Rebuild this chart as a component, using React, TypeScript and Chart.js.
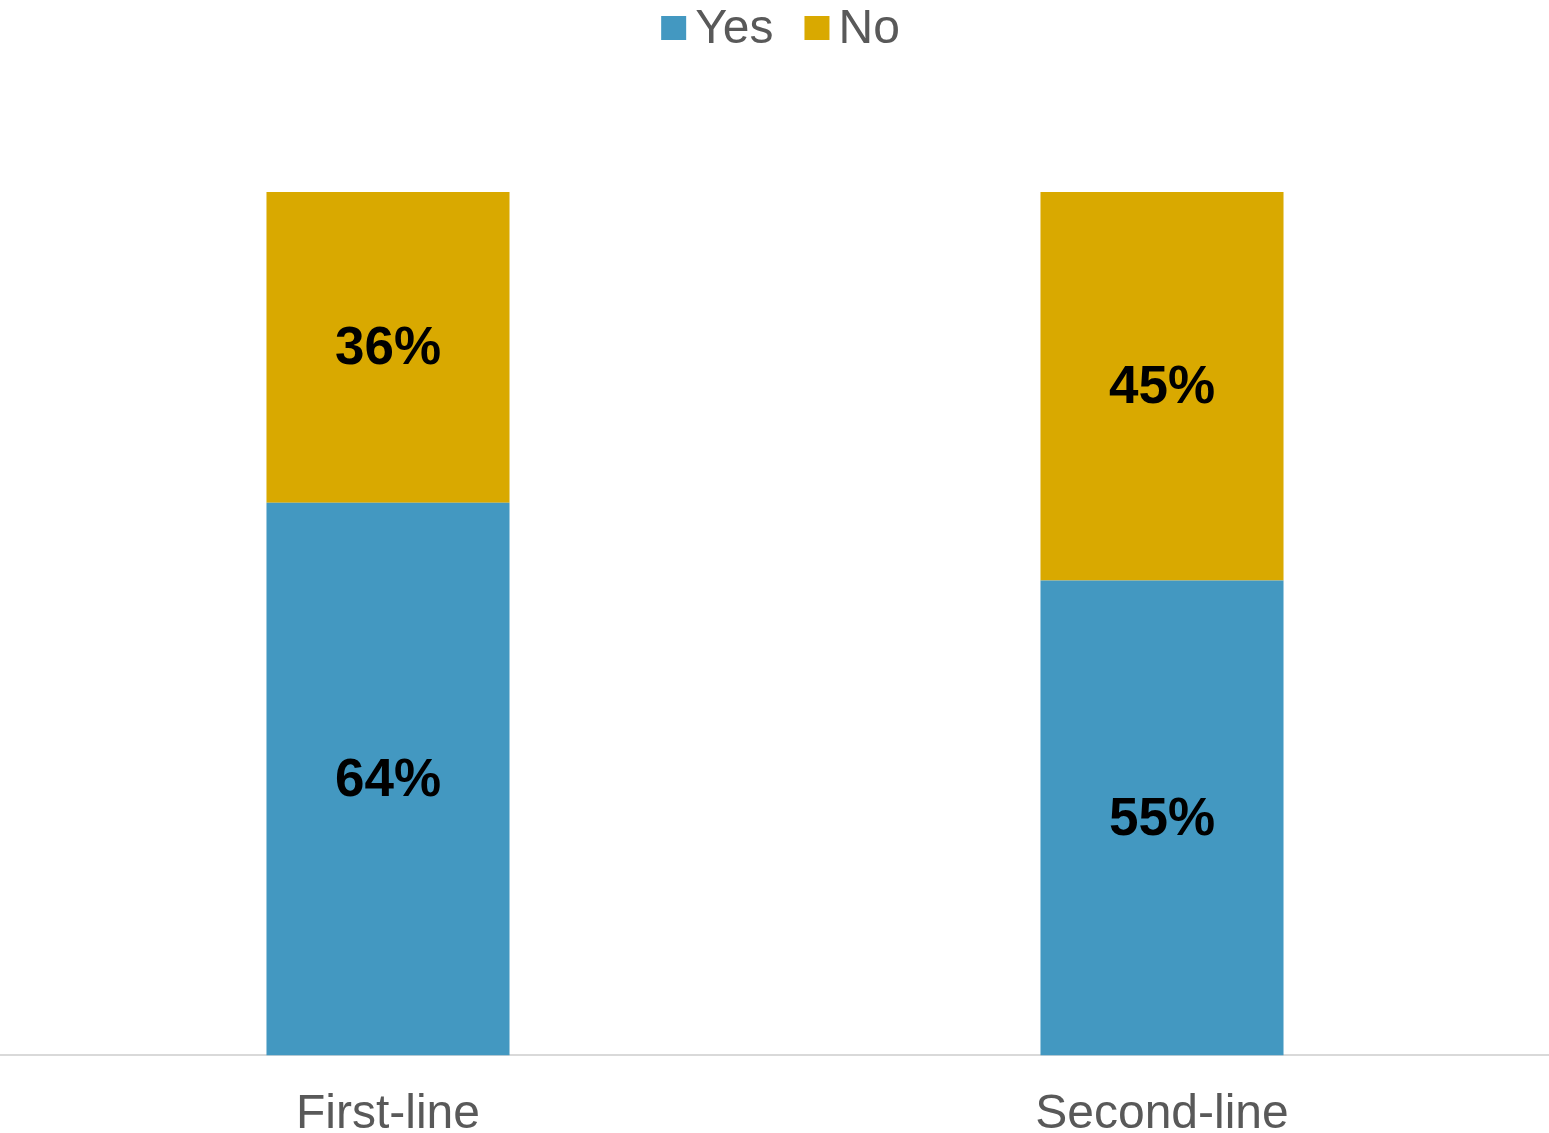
import React, { useEffect, useRef } from "react";
import { Chart, registerables } from "chart.js";

Chart.register(...registerables);

const categories: string[] = ["First-line", "Second-line"];
const yesValues: number[] = [64, 55];
const noValues: number[] = [36, 45];
const seriesLabels: string[] = ["Yes", "No"];
const seriesColors: string[] = ["#4398C1", "#D9A900"];

const FONT = "'Liberation Sans', Arial, sans-serif";
const TEXT_GRAY = "#595959";

const dataLabelPlugin = {
  id: "segmentLabels",
  afterDatasetsDraw(chart: any) {
    const ctx = chart.ctx;
    ctx.save();
    ctx.font = `bold 53px ${FONT}`;
    ctx.fillStyle = "#000000";
    ctx.textAlign = "center";
    ctx.textBaseline = "middle";
    chart.data.datasets.forEach((ds: any, di: number) => {
      const meta = chart.getDatasetMeta(di);
      meta.data.forEach((bar: any, i: number) => {
        const v = ds.data[i];
        const cy = (bar.y + bar.base) / 2;
        ctx.fillText(`${v}%`, bar.x, cy + 2);
      });
    });
    ctx.restore();
  },
};

const legendPlugin = {
  id: "topLegend",
  afterDraw(chart: any) {
    const ctx = chart.ctx;
    ctx.save();
    ctx.font = `48px ${FONT}`;
    ctx.textBaseline = "middle";
    ctx.textAlign = "left";
    const box = 25;
    const gapBoxText = 9;
    const gapItems = 31;
    const items = chart.data.datasets.map((ds: any) => ({
      label: ds.label,
      color: ds.backgroundColor,
      w: ctx.measureText(ds.label).width,
    }));
    const total =
      items.reduce((s: number, it: any) => s + box + gapBoxText + it.w, 0) +
      gapItems * (items.length - 1);
    let x = (chart.width - total) / 2 + 6;
    const cy = 28;
    items.forEach((it: any) => {
      ctx.fillStyle = it.color;
      ctx.fillRect(x, cy - 12, box, 24);
      x += box + gapBoxText;
      ctx.fillStyle = TEXT_GRAY;
      ctx.fillText(it.label, x, cy + 2);
      x += it.w + gapItems;
    });
    ctx.restore();
  },
};

export default function App() {
  const canvasRef = useRef<HTMLCanvasElement | null>(null);

  useEffect(() => {
    document.body.style.margin = "0";
    const canvas = canvasRef.current;
    if (!canvas) return;
    const chart = new Chart(canvas, {
      type: "bar",
      data: {
        labels: categories,
        datasets: [
          {
            label: seriesLabels[0],
            data: yesValues,
            backgroundColor: seriesColors[0],
            borderWidth: 0,
            categoryPercentage: 1,
            barPercentage: 0.314,
          },
          {
            label: seriesLabels[1],
            data: noValues,
            backgroundColor: seriesColors[1],
            borderWidth: 0,
            categoryPercentage: 1,
            barPercentage: 0.314,
          },
        ],
      },
      options: {
        responsive: false,
        animation: false,
        layout: { padding: { top: 192, left: 1, right: 0, bottom: -42 } },
        plugins: {
          legend: { display: false },
          tooltip: { enabled: false },
        },
        scales: {
          x: {
            stacked: true,
            grid: { display: false, drawTicks: false },
            border: { display: true, color: "#D9D9D9", width: 2 },
            ticks: {
              color: TEXT_GRAY,
              font: { family: FONT, size: 48, lineHeight: 1.2 },
              padding: 31,
            },
          },
          y: {
            stacked: true,
            display: false,
            min: 0,
            max: 100,
          },
        },
      },
      plugins: [dataLabelPlugin, legendPlugin],
    });
    return () => chart.destroy();
  }, []);

  return (
    <div style={{ width: 1549, height: 1133 }}>
      <canvas ref={canvasRef} width={1549} height={1133} style={{ display: "block" }} />
    </div>
  );
}
